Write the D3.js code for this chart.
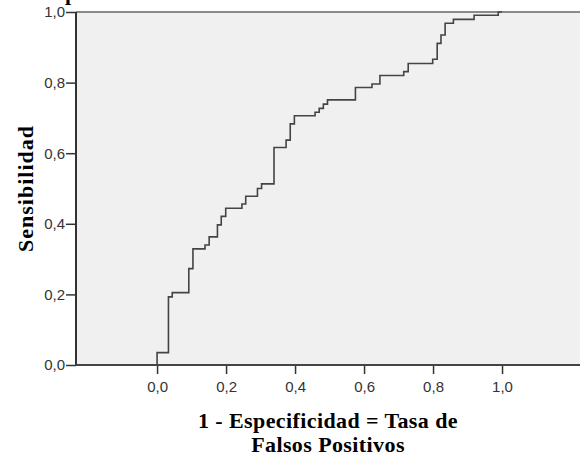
<!DOCTYPE html>
<html>
<head>
<meta charset="utf-8">
<script src="https://cdn.jsdelivr.net/npm/d3@7"></script>
<style>
  body { margin: 0; background: #fff; }
  svg { display: block; }
  .tick text { font-family: "Liberation Sans", Arial, sans-serif; font-size: 15px; fill: #333; }
  .titulo { font-family: "Liberation Serif", "Times New Roman", serif; font-weight: bold; font-size: 22px; fill: #000; }
</style>
</head>
<body>
<svg></svg>
<script>
// curva COR: puntos (1 - especificidad, sensibilidad) al final de cada escalon
var fpr  = [0, 0, 0.033, 0.044, 0.092, 0.104, 0.139, 0.151, 0.175, 0.186, 0.199, 0.246, 0.257, 0.291, 0.303,
            0.339, 0.374, 0.386, 0.398, 0.458, 0.470, 0.482, 0.494, 0.575, 0.623, 0.646, 0.715, 0.728,
            0.799, 0.812, 0.823, 0.835, 0.859, 0.919, 0.989, 1.0];
var sens = [0, 0.035, 0.193, 0.205, 0.273, 0.329, 0.340, 0.363, 0.397, 0.421, 0.444, 0.456, 0.478, 0.500, 0.513,
            0.616, 0.637, 0.683, 0.706, 0.716, 0.727, 0.739, 0.751, 0.786, 0.796, 0.820, 0.831, 0.854,
            0.866, 0.911, 0.935, 0.968, 0.979, 0.991, 1.0, 1.0];
var ticks = [0, 0.2, 0.4, 0.6, 0.8, 1.0];
var xTitle = ["1 - Especificidad = Tasa de", "Falsos Positivos"];
var yTitle = "Sensibilidad";

var width = 580;
var height = 454;

var svg = d3.select("svg")
  .attr("width", width)
  .attr("height", height);

var x = d3.scaleLinear().domain([-0.235, 1.226]).range([76, 580]);
var y = d3.scaleLinear().domain([0, 1]).range([365, 12]);

var fmt = function(d) {
  return d3.format(".1f")(d).replace(".", ",");
};

// fondo del grafico
svg.append("rect")
  .attr("x", x.range()[0])
  .attr("y", y.range()[1])
  .attr("width", x.range()[1] - x.range()[0])
  .attr("height", y.range()[0] - y.range()[1])
  .attr("fill", "#f0f0f0");

// borde superior
svg.append("line")
  .attr("x1", x.range()[0]).attr("x2", x.range()[1])
  .attr("y1", y(1)).attr("y2", y(1))
  .attr("stroke", "#8a8a8a")
  .attr("stroke-width", 2);

var yAxis = svg.append("g")
  .attr("transform", "translate(" + x.range()[0] + ",0)")
  .call(d3.axisLeft(y).tickValues(ticks).tickSize(10).tickPadding(1).tickFormat(fmt));
yAxis.select(".domain").remove();
yAxis.selectAll(".tick line").attr("stroke", "#333").attr("stroke-width", 1.5);

var xAxis = svg.append("g")
  .attr("transform", "translate(0," + y(0) + ")")
  .call(d3.axisBottom(x).tickValues(ticks).tickSize(9).tickPadding(7).tickFormat(fmt));
xAxis.select(".domain").remove();
xAxis.selectAll(".tick line").attr("stroke", "#333").attr("stroke-width", 1.5);

// ejes
svg.append("line")
  .attr("x1", x.range()[0]).attr("x2", x.range()[0])
  .attr("y1", y(1)).attr("y2", y(0))
  .attr("stroke", "#333")
  .attr("stroke-width", 2);
svg.append("line")
  .attr("x1", x.range()[0]).attr("x2", x.range()[1])
  .attr("y1", y(0)).attr("y2", y(0))
  .attr("stroke", "#444")
  .attr("stroke-width", 2);

// curva
var puntos = fpr.map(function(d, i) { return [d, sens[i]]; });
var linea = d3.line()
  .x(function(d) { return x(d[0]); })
  .y(function(d) { return y(d[1]); })
  .curve(d3.curveStepAfter);

svg.append("path")
  .datum(puntos)
  .attr("d", linea)
  .attr("fill", "none")
  .attr("stroke", "#444")
  .attr("stroke-width", 1.6);

// titulo cortado arriba (asi aparece en la imagen original)
svg.append("text")
  .attr("class", "titulo")
  .attr("x", 65)
  .attr("y", 0)
  .text("p");

// titulos de los ejes
svg.append("text")
  .attr("class", "titulo")
  .attr("text-anchor", "middle")
  .style("letter-spacing", "1px")
  .attr("transform", "translate(33," + (y(0) + y(1)) / 2 + ") rotate(-90)")
  .text(yTitle);

svg.selectAll(".xtitle")
  .data(xTitle)
  .enter()
  .append("text")
  .attr("class", "titulo xtitle")
  .attr("text-anchor", "middle")
  .style("letter-spacing", "0.4px")
  .attr("x", (x.range()[0] + x.range()[1]) / 2)
  .attr("y", function(d, i) { return 428 + i * 24; })
  .text(function(d) { return d; });
</script>
</body>
</html>
